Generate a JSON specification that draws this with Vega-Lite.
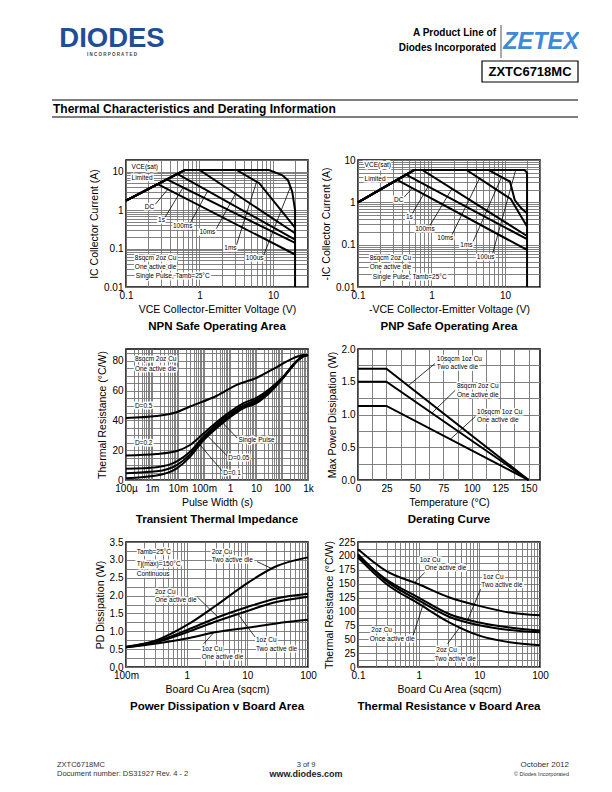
{
"$schema":"https://vega.github.io/schema/vega-lite/v6.json",
"padding":{"left":50,"top":20,"right":0,"bottom":0},
"autosize":{"type":"pad"},
"columns":3,
"bounds":"flush",
"align":"each",
"spacing":{"row":62,"column":50},
"config":{
 "font":"Liberation Sans",
 "view":{"stroke":null},
 "axis":{"grid":true,"gridColor":"#747474","gridWidth":0.9,"ticks":false,"domain":false,"labelFont":"Liberation Sans","labelFontSize":10,"labelColor":"#000","labelPadding":3,"labelOverlap":"greedy","labelFlush":false,"labelBound":false,"titleFont":"Liberation Sans","titleFontSize":10.5,"titleFontWeight":"normal","titleColor":"#000","titlePadding":4},
 "title":{"font":"Liberation Sans","fontSize":11.5,"fontWeight":"bold","color":"#000","orient":"bottom","offset":6,"anchor":"middle"},
 "line":{"color":"black","strokeWidth":2},
 "rule":{"color":"black","strokeWidth":0.8}
},
"datasets":{
 "npn":[
  {"c":"DC","V":0.1,"I":1.75},{"c":"DC","V":0.27,"I":4.7},{"c":"DC","V":20,"I":0.07},
  {"c":"1s","V":0.1,"I":1.75},{"c":"1s","V":0.36,"I":6.3},{"c":"1s","V":20,"I":0.14},
  {"c":"100ms","V":0.1,"I":1.75},{"c":"100ms","V":0.5,"I":8.75},{"c":"100ms","V":20,"I":0.17},
  {"c":"10ms","V":0.1,"I":1.75},{"c":"10ms","V":0.63,"I":11},{"c":"10ms","V":1,"I":11},{"c":"10ms","V":20,"I":0.25},
  {"c":"1ms","V":0.1,"I":1.75},{"c":"1ms","V":0.63,"I":11},{"c":"1ms","V":3.2,"I":11},{"c":"1ms","V":6.5,"I":5},{"c":"1ms","V":20,"I":0.35},
  {"c":"100us","V":0.1,"I":1.75},{"c":"100us","V":0.63,"I":11},{"c":"100us","V":8.8,"I":11},{"c":"100us","V":13.3,"I":8.1},{"c":"100us","V":16,"I":6},{"c":"100us","V":18.3,"I":3},{"c":"100us","V":20,"I":1},{"c":"100us","V":20,"I":0.01}
 ],
 "npnLab":[
  {"t":"VCE(sat)","V":0.119,"I":12.9},{"t":"Limited","V":0.119,"I":6.7},
  {"t":"DC","V":0.18,"I":1.22},{"t":"1s","V":0.273,"I":0.55},{"t":"100ms","V":0.436,"I":0.385},{"t":"10ms","V":1.0,"I":0.274},{"t":"1ms","V":2.18,"I":0.101},{"t":"100us","V":4.27,"I":0.0557},
  {"t":"8sqcm 2oz Cu","V":0.132,"I":0.058},{"t":"One active die","V":0.132,"I":0.0338},{"t":"Single Pulse, Tamb=25°C","V":0.136,"I":0.0194}
 ],
 "npnLead":[
  {"V":0.25,"I":1.4,"V2":0.37,"I2":3.44},
  {"V":0.34,"I":0.65,"V2":0.6,"I2":3.89},
  {"V":0.75,"I":0.46,"V2":1.3,"I2":3.2},
  {"V":1.7,"I":0.33,"V2":3.1,"I2":2.65},
  {"V":3.2,"I":0.125,"V2":6.0,"I2":5.5},
  {"V":7.5,"I":0.068,"V2":17.3,"I2":4.0}
 ],
 "pnp":[
  {"c":"DC","V":0.1,"I":1},{"c":"DC","V":0.34,"I":3.4},{"c":"DC","V":20,"I":0.075},
  {"c":"1s","V":0.1,"I":1},{"c":"1s","V":0.45,"I":4.5},{"c":"1s","V":20,"I":0.135},
  {"c":"100ms","V":0.1,"I":1},{"c":"100ms","V":0.58,"I":5.8},{"c":"100ms","V":0.75,"I":5.8},{"c":"100ms","V":20,"I":0.16},
  {"c":"10ms","V":0.1,"I":1},{"c":"10ms","V":0.58,"I":5.8},{"c":"10ms","V":3,"I":5.8},{"c":"10ms","V":12,"I":1.2},{"c":"10ms","V":20,"I":0.27},
  {"c":"1ms","V":0.1,"I":1},{"c":"1ms","V":0.58,"I":5.8},{"c":"1ms","V":6,"I":5.8},{"c":"1ms","V":11.7,"I":3.1},{"c":"1ms","V":13.6,"I":1.13},{"c":"1ms","V":16.7,"I":0.72},{"c":"1ms","V":20,"I":0.55},
  {"c":"100us","V":0.1,"I":1},{"c":"100us","V":0.58,"I":5.8},{"c":"100us","V":18.5,"I":5.8},{"c":"100us","V":20,"I":5},{"c":"100us","V":20,"I":0.01}
 ],
 "pnpLab":[
  {"t":"VCE(sat)","V":0.123,"I":7.6},{"t":"Limited","V":0.123,"I":3.5},
  {"t":"DC","V":0.31,"I":1.14},{"t":"1s","V":0.449,"I":0.458},{"t":"100ms","V":0.6,"I":0.236},{"t":"10ms","V":1.2,"I":0.142},{"t":"1ms","V":2.47,"I":0.098},{"t":"100us","V":4.14,"I":0.052},
  {"t":"8sqcm 2oz Cu","V":0.144,"I":0.0476},{"t":"One active die","V":0.144,"I":0.0302},{"t":"Single Pulse, Tamb=25°C","V":0.159,"I":0.0175}
 ],
 "pnpLead":[
  {"V":0.42,"I":1.3,"V2":0.55,"I2":2.17},
  {"V":0.55,"I":0.55,"V2":0.9,"I2":2.37},
  {"V":0.95,"I":0.28,"V2":1.9,"I2":2.1},
  {"V":1.9,"I":0.17,"V2":4.5,"I2":3.66},
  {"V":3.7,"I":0.12,"V2":9,"I2":3.97},
  {"V":6.8,"I":0.062,"V2":14,"I2":5.8}
 ],
 "zth":[
  {"c":"D=0.5","pw":0.0001,"rth":41.7},{"c":"D=0.5","pw":0.0015,"rth":43},{"c":"D=0.5","pw":0.008,"rth":45.3},{"c":"D=0.5","pw":0.029,"rth":49.4},{"c":"D=0.5","pw":0.31,"rth":56.6},{"c":"D=0.5","pw":1.8,"rth":63.9},{"c":"D=0.5","pw":10.7,"rth":68.7},{"c":"D=0.5","pw":63,"rth":75.9},{"c":"D=0.5","pw":275,"rth":81.9},{"c":"D=0.5","pw":660,"rth":83.9},{"c":"D=0.5","pw":1000,"rth":84},
  {"c":"D=0.2","pw":0.0001,"rth":16.5},{"c":"D=0.2","pw":0.0015,"rth":17.5},{"c":"D=0.2","pw":0.009,"rth":19.5},{"c":"D=0.2","pw":0.029,"rth":23.5},{"c":"D=0.2","pw":0.093,"rth":31},{"c":"D=0.2","pw":0.31,"rth":39},{"c":"D=0.2","pw":1,"rth":45.8},{"c":"D=0.2","pw":3.2,"rth":51.5},{"c":"D=0.2","pw":10.7,"rth":55.3},{"c":"D=0.2","pw":35,"rth":61.5},{"c":"D=0.2","pw":113,"rth":69.5},{"c":"D=0.2","pw":365,"rth":80},{"c":"D=0.2","pw":660,"rth":83.3},{"c":"D=0.2","pw":1000,"rth":84},
  {"c":"D=0.1","pw":0.0001,"rth":7.5},{"c":"D=0.1","pw":0.0015,"rth":8.6},{"c":"D=0.1","pw":0.009,"rth":12.5},{"c":"D=0.1","pw":0.029,"rth":19},{"c":"D=0.1","pw":0.093,"rth":29},{"c":"D=0.1","pw":0.31,"rth":37.5},{"c":"D=0.1","pw":1,"rth":44.5},{"c":"D=0.1","pw":3.2,"rth":50},{"c":"D=0.1","pw":10.7,"rth":54},{"c":"D=0.1","pw":35,"rth":60.8},{"c":"D=0.1","pw":113,"rth":69.3},{"c":"D=0.1","pw":365,"rth":79.8},{"c":"D=0.1","pw":660,"rth":83.2},{"c":"D=0.1","pw":1000,"rth":84},
  {"c":"D=0.05","pw":0.0001,"rth":4.6},{"c":"D=0.05","pw":0.0015,"rth":5.8},{"c":"D=0.05","pw":0.009,"rth":10},{"c":"D=0.05","pw":0.029,"rth":17.2},{"c":"D=0.05","pw":0.093,"rth":27.7},{"c":"D=0.05","pw":0.31,"rth":36.3},{"c":"D=0.05","pw":1,"rth":43.3},{"c":"D=0.05","pw":3.2,"rth":49},{"c":"D=0.05","pw":10.7,"rth":52.8},{"c":"D=0.05","pw":35,"rth":60},{"c":"D=0.05","pw":113,"rth":69},{"c":"D=0.05","pw":365,"rth":79.6},{"c":"D=0.05","pw":660,"rth":83.1},{"c":"D=0.05","pw":1000,"rth":84},
  {"c":"Single","pw":0.0001,"rth":1.2},{"c":"Single","pw":0.0015,"rth":3},{"c":"Single","pw":0.009,"rth":7.8},{"c":"Single","pw":0.029,"rth":15.5},{"c":"Single","pw":0.093,"rth":26.5},{"c":"Single","pw":0.31,"rth":35},{"c":"Single","pw":1,"rth":42.2},{"c":"Single","pw":3.2,"rth":48.2},{"c":"Single","pw":10.7,"rth":51.8},{"c":"Single","pw":35,"rth":59},{"c":"Single","pw":113,"rth":68.7},{"c":"Single","pw":365,"rth":79.5},{"c":"Single","pw":660,"rth":83},{"c":"Single","pw":1000,"rth":84}
 ],
 "zthLab":[
  {"t":"8sqcm 2oz Cu","pw":0.00022,"rth":81.5},{"t":"One active die","pw":0.00022,"rth":74.7},{"t":"D=0.5","pw":0.00022,"rth":49.4},{"t":"D=0.2","pw":0.00022,"rth":24.6},{"t":"Single Pulse","pw":2.1,"rth":27},{"t":"D=0.05","pw":0.86,"rth":14.9},{"t":"D=0.1","pw":0.55,"rth":4.8}
 ],
 "zthLead":[
  {"pw":1.95,"rth":28,"pw2":0.45,"rth2":39.5},
  {"pw":0.8,"rth":16,"pw2":0.13,"rth2":30},
  {"pw":0.5,"rth":6,"pw2":0.06,"rth2":25}
 ],
 "der":[
  {"c":"a","temp":0,"pd":1.7},{"c":"a","temp":25,"pd":1.7},{"c":"a","temp":150,"pd":0},
  {"c":"b","temp":0,"pd":1.5},{"c":"b","temp":25,"pd":1.5},{"c":"b","temp":150,"pd":0},
  {"c":"c","temp":0,"pd":1.13},{"c":"c","temp":25,"pd":1.13},{"c":"c","temp":150,"pd":0}
 ],
 "derLab":[
  {"t":"10sqcm 1oz Cu","temp":69.3,"pd":1.845},{"t":"Two active die","temp":69.3,"pd":1.72},
  {"t":"8sqcm 2oz Cu","temp":87,"pd":1.434},{"t":"One active die","temp":87,"pd":1.304},
  {"t":"10sqcm 1oz Cu","temp":104.7,"pd":1.041},{"t":"One active die","temp":104.7,"pd":0.913}
 ],
 "derLead":[
  {"temp":67.8,"pd":1.78,"temp2":44.2,"pd2":1.44},
  {"temp":85.5,"pd":1.37,"temp2":64.9,"pd2":1.02},
  {"temp":103.2,"pd":0.97,"temp2":81.1,"pd2":0.62}
 ],
 "pdb":[
  {"c":"2oz2","area":0.1,"pd":0.57},{"c":"2oz2","area":0.32,"pd":0.75},{"c":"2oz2","area":1,"pd":1.17},{"c":"2oz2","area":3.1,"pd":1.73},{"c":"2oz2","area":10,"pd":2.35},{"c":"2oz2","area":30,"pd":2.82},{"c":"2oz2","area":100,"pd":3.07},
  {"c":"2oz1","area":0.1,"pd":0.56},{"c":"2oz1","area":0.32,"pd":0.72},{"c":"2oz1","area":1,"pd":1.03},{"c":"2oz1","area":3.1,"pd":1.38},{"c":"2oz1","area":10,"pd":1.68},{"c":"2oz1","area":30,"pd":1.92},{"c":"2oz1","area":100,"pd":2.05},
  {"c":"1oz2","area":0.1,"pd":0.55},{"c":"1oz2","area":0.32,"pd":0.7},{"c":"1oz2","area":1,"pd":0.97},{"c":"1oz2","area":3.1,"pd":1.28},{"c":"1oz2","area":10,"pd":1.57},{"c":"1oz2","area":30,"pd":1.82},{"c":"1oz2","area":100,"pd":1.97},
  {"c":"1oz1","area":0.1,"pd":0.55},{"c":"1oz1","area":0.32,"pd":0.66},{"c":"1oz1","area":1,"pd":0.8},{"c":"1oz1","area":3.1,"pd":0.98},{"c":"1oz1","area":10,"pd":1.1},{"c":"1oz1","area":30,"pd":1.22},{"c":"1oz1","area":100,"pd":1.32}
 ],
 "pdbLab":[
  {"t":"Tamb=25°C","area":0.15,"pd":3.22},{"t":"Tj(max)=150°C","area":0.15,"pd":2.89},{"t":"Continuous","area":0.15,"pd":2.61},
  {"t":"2oz Cu","area":2.58,"pd":3.22},{"t":"Two active die","area":2.58,"pd":3.0},
  {"t":"2oz Cu","area":0.3,"pd":2.1},{"t":"One active die","area":0.3,"pd":1.87},
  {"t":"1oz Cu","area":13.9,"pd":0.77},{"t":"Two active die","area":13.9,"pd":0.51},
  {"t":"1oz Cu","area":1.77,"pd":0.51},{"t":"One active die","area":1.77,"pd":0.28}
 ],
 "pdbLead":[
  {"area":14.5,"pd":2.95,"area2":25,"pd2":2.76},
  {"area":1.5,"pd":1.96,"area2":3.3,"pd2":1.39},
  {"area":13.4,"pd":0.84,"area2":7.1,"pd2":1.47},
  {"area":1.9,"pd":0.65,"area2":2.75,"pd2":0.95}
 ],
 "trb":[
  {"c":"1oz1","area":0.1,"rth":212},{"c":"1oz1","area":0.29,"rth":173},{"c":"1oz1","area":1,"rth":149},{"c":"1oz1","area":3.24,"rth":125},{"c":"1oz1","area":10,"rth":110},{"c":"1oz1","area":31.6,"rth":98},{"c":"1oz1","area":100,"rth":93},
  {"c":"1oz2","area":0.1,"rth":200},{"c":"1oz2","area":0.29,"rth":158},{"c":"1oz2","area":1,"rth":125},{"c":"1oz2","area":3.24,"rth":95},{"c":"1oz2","area":10,"rth":80},{"c":"1oz2","area":31.6,"rth":71},{"c":"1oz2","area":100,"rth":65.5},
  {"c":"2oz1","area":0.1,"rth":203},{"c":"2oz1","area":0.29,"rth":155},{"c":"2oz1","area":1,"rth":120},{"c":"2oz1","area":3.24,"rth":90},{"c":"2oz1","area":10,"rth":75},{"c":"2oz1","area":31.6,"rth":66.5},{"c":"2oz1","area":100,"rth":62.5},
  {"c":"2oz2","area":0.1,"rth":197},{"c":"2oz2","area":0.29,"rth":150},{"c":"2oz2","area":1,"rth":114},{"c":"2oz2","area":3.24,"rth":80},{"c":"2oz2","area":10,"rth":56.5},{"c":"2oz2","area":31.6,"rth":44.6},{"c":"2oz2","area":100,"rth":39}
 ],
 "trbLab":[
  {"t":"1oz Cu","area":1.04,"rth":193.4},{"t":"One active die","area":1.26,"rth":178.6},
  {"t":"1oz Cu","area":11.5,"rth":161.9},{"t":"Two active die","area":10.8,"rth":147},
  {"t":"2oz Cu","area":0.166,"rth":66.7},{"t":"Once active die","area":0.156,"rth":50.6},
  {"t":"2oz Cu","area":1.95,"rth":31.5},{"t":"Two active die","area":1.84,"rth":14.9}
 ],
 "trbLead":[
  {"area":1.26,"rth":170,"area2":0.86,"rth2":152},
  {"area":10.5,"rth":140,"area2":6.5,"rth2":86},
  {"area":0.81,"rth":57,"area2":1.2,"rth2":114},
  {"area":3.0,"rth":42,"area2":4.8,"rth2":72}
 ]
},
"concat":[
 {"width":26,"height":78,
  "layer":[
   {"data":{"values":[{"t":"DIODES"}]},"mark":{"type":"text","fontWeight":"bold","fontSize":27.5,"color":"#1f4e96","align":"center","baseline":"alphabetic"},
    "encoding":{"x":{"datum":112,"type":"quantitative","scale":{"domain":[50,76],"nice":false,"zero":false},"axis":null},"y":{"datum":46.5,"type":"quantitative","scale":{"domain":[20,98],"nice":false,"zero":false,"reverse":true},"axis":null},"text":{"field":"t"}}},
   {"data":{"values":[{"t":"I     N     C     O     R     P     O     R     A     T     E     D"}]},"mark":{"type":"text","fontWeight":"bold","fontSize":4.5,"color":"#444","align":"center","baseline":"alphabetic"},
    "encoding":{"x":{"datum":112,"type":"quantitative","scale":{"domain":[50,76],"nice":false,"zero":false},"axis":null},"y":{"datum":56,"type":"quantitative","scale":{"domain":[20,98],"nice":false,"zero":false,"reverse":true},"axis":null},"text":{"field":"t"}}},
   {"data":{"values":[{"t":"A Product Line of\nDiodes Incorporated"}]},"mark":{"type":"text","fontWeight":"bold","fontSize":10,"color":"#000","align":"right","baseline":"alphabetic","lineBreak":"\n","lineHeight":15},
    "encoding":{"x":{"datum":496,"type":"quantitative","scale":{"domain":[50,76],"nice":false,"zero":false},"axis":null},"y":{"datum":36,"type":"quantitative","scale":{"domain":[20,98],"nice":false,"zero":false,"reverse":true},"axis":null},"text":{"field":"t"}}},
   {"data":{"values":[{}]},"mark":{"type":"rule","color":"#555","strokeWidth":1},
    "encoding":{"x":{"datum":501,"type":"quantitative","scale":{"domain":[50,76],"nice":false,"zero":false},"axis":null},"y":{"datum":25,"type":"quantitative","scale":{"domain":[20,98],"nice":false,"zero":false,"reverse":true},"axis":null},"y2":{"datum":58}}},
   {"data":{"values":[{"t":"ZETEX"}]},"mark":{"type":"text","fontWeight":"bold","fontStyle":"italic","fontSize":23.5,"color":"#3d8ad6","align":"center","baseline":"alphabetic"},
    "encoding":{"x":{"datum":541,"type":"quantitative","scale":{"domain":[50,76],"nice":false,"zero":false},"axis":null},"y":{"datum":49,"type":"quantitative","scale":{"domain":[20,98],"nice":false,"zero":false,"reverse":true},"axis":null},"text":{"field":"t"}}},
   {"data":{"values":[{}]},"mark":{"type":"rect","fill":"transparent","stroke":"black","strokeWidth":1.2},
    "encoding":{"x":{"datum":482,"type":"quantitative","scale":{"domain":[50,76],"nice":false,"zero":false},"axis":null},"x2":{"datum":578},"y":{"datum":61,"type":"quantitative","scale":{"domain":[20,98],"nice":false,"zero":false,"reverse":true},"axis":null},"y2":{"datum":82}}},
   {"data":{"values":[{"t":"ZXTC6718MC"}]},"mark":{"type":"text","fontWeight":"bold","fontSize":13,"color":"#000","align":"center","baseline":"alphabetic"},
    "encoding":{"x":{"datum":530,"type":"quantitative","scale":{"domain":[50,76],"nice":false,"zero":false},"axis":null},"y":{"datum":76,"type":"quantitative","scale":{"domain":[20,98],"nice":false,"zero":false,"reverse":true},"axis":null},"text":{"field":"t"}}},
   {"data":{"values":[{}]},"mark":{"type":"rule","color":"#000","strokeWidth":1.2},
    "encoding":{"x":{"datum":52,"type":"quantitative","scale":{"domain":[50,76],"nice":false,"zero":false},"axis":null},"x2":{"datum":578},"y":{"datum":100,"type":"quantitative","scale":{"domain":[20,98],"nice":false,"zero":false,"reverse":true},"axis":null}}},
   {"data":{"values":[{}]},"mark":{"type":"rule","color":"#000","strokeWidth":1.2},
    "encoding":{"x":{"datum":52,"type":"quantitative","scale":{"domain":[50,76],"nice":false,"zero":false},"axis":null},"x2":{"datum":578},"y":{"datum":117,"type":"quantitative","scale":{"domain":[20,98],"nice":false,"zero":false,"reverse":true},"axis":null}}},
   {"data":{"values":[{"t":"Thermal Characteristics and Derating Information"}]},"mark":{"type":"text","fontWeight":"bold","fontSize":12,"color":"#000","align":"left","baseline":"alphabetic"},
    "encoding":{"x":{"datum":53,"type":"quantitative","scale":{"domain":[50,76],"nice":false,"zero":false},"axis":null},"y":{"datum":113,"type":"quantitative","scale":{"domain":[20,98],"nice":false,"zero":false,"reverse":true},"axis":null},"text":{"field":"t"}}}
  ]},
 {"width":182,"height":1,"data":{"values":[]},"mark":"point"},
 {"width":182,"height":1,"data":{"values":[]},"mark":"point"},
 {"width":26,"height":1,"data":{"values":[]},"mark":"point"},
 {"width":182,"height":127,"view":{"stroke":"black","strokeWidth":1.5},
  "title":{"text":"NPN Safe Operating Area"},
  "layer":[
   {"data":{"name":"npn"},"mark":{"type":"line"},
    "encoding":{"x":{"field":"V","type":"quantitative","scale":{"type":"log","domain":[0.1,30],"nice":false},"axis":{"title":"VCE  Collector-Emitter Voltage (V)","tickCount":20,"labelExpr":"indexof([0.1,1,10],datum.value)>=0 ? format(datum.value,'~g') : ''"}},
     "y":{"field":"I","type":"quantitative","scale":{"type":"log","domain":[0.01,20],"nice":false},"axis":{"title":"IC  Collector Current (A)","tickCount":20,"labelExpr":"indexof([0.01,0.1,1,10],datum.value)>=0 ? format(datum.value,'~g') : ''"}},
     "detail":{"field":"c"}}},
   {"data":{"name":"npnLead"},"mark":{"type":"rule"},"encoding":{"x":{"field":"V","type":"quantitative"},"y":{"field":"I","type":"quantitative"},"x2":{"field":"V2"},"y2":{"field":"I2"}}},
   {"data":{"name":"npnLab"},"mark":{"type":"text","align":"left","baseline":"middle","fontSize":6.5,"fill":"white","stroke":"white","strokeWidth":3},"encoding":{"x":{"field":"V","type":"quantitative"},"y":{"field":"I","type":"quantitative"},"text":{"field":"t"}}},
   {"data":{"name":"npnLab"},"mark":{"type":"text","align":"left","baseline":"middle","fontSize":6.5,"color":"black"},"encoding":{"x":{"field":"V","type":"quantitative"},"y":{"field":"I","type":"quantitative"},"text":{"field":"t"}}}
  ]},
 {"width":182,"height":127,"view":{"stroke":"black","strokeWidth":1.5},
  "title":{"text":"PNP Safe Operating Area"},
  "layer":[
   {"data":{"name":"pnp"},"mark":{"type":"line"},
    "encoding":{"x":{"field":"V","type":"quantitative","scale":{"type":"log","domain":[0.1,30],"nice":false},"axis":{"title":"-VCE  Collector-Emitter Voltage (V)","tickCount":20,"labelExpr":"indexof([0.1,1,10],datum.value)>=0 ? format(datum.value,'~g') : ''"}},
     "y":{"field":"I","type":"quantitative","scale":{"type":"log","domain":[0.01,10],"nice":false},"axis":{"title":"-IC  Collector Current (A)","tickCount":20,"labelExpr":"indexof([0.01,0.1,1,10],datum.value)>=0 ? format(datum.value,'~g') : ''"}},
     "detail":{"field":"c"}}},
   {"data":{"name":"pnpLead"},"mark":{"type":"rule"},"encoding":{"x":{"field":"V","type":"quantitative"},"y":{"field":"I","type":"quantitative"},"x2":{"field":"V2"},"y2":{"field":"I2"}}},
   {"data":{"name":"pnpLab"},"mark":{"type":"text","align":"left","baseline":"middle","fontSize":6.5,"fill":"white","stroke":"white","strokeWidth":3},"encoding":{"x":{"field":"V","type":"quantitative"},"y":{"field":"I","type":"quantitative"},"text":{"field":"t"}}},
   {"data":{"name":"pnpLab"},"mark":{"type":"text","align":"left","baseline":"middle","fontSize":6.5,"color":"black"},"encoding":{"x":{"field":"V","type":"quantitative"},"y":{"field":"I","type":"quantitative"},"text":{"field":"t"}}}
  ]},
 {"width":26,"height":1,"data":{"values":[]},"mark":"point"},
 {"width":182,"height":131,"view":{"stroke":"black","strokeWidth":1.5},
  "title":{"text":"Transient Thermal Impedance"},
  "layer":[
   {"data":{"name":"zth"},"mark":{"type":"line","interpolate":"monotone"},
    "encoding":{"x":{"field":"pw","type":"quantitative","scale":{"type":"log","domain":[0.0001,1000],"nice":false},"axis":{"title":"Pulse Width (s)","tickCount":20,"labelExpr":"datum.value==0.0001?'100µ':datum.value==0.001?'1m':datum.value==0.01?'10m':datum.value==0.1?'100m':datum.value==1?'1':datum.value==10?'10':datum.value==100?'100':datum.value==1000?'1k':''"}},
     "y":{"field":"rth","type":"quantitative","scale":{"domain":[0,88],"nice":false},"axis":{"title":"Thermal Resistance (°C/W)","tickCount":100,"values":[0,5,10,15,20,25,30,35,40,45,50,55,60,65,70,75,80,85],"labelExpr":"datum.value % 20 == 0 ? datum.label : ''"}},
     "detail":{"field":"c"}}},
   {"data":{"name":"zthLead"},"mark":{"type":"rule"},"encoding":{"x":{"field":"pw","type":"quantitative"},"y":{"field":"rth","type":"quantitative"},"x2":{"field":"pw2"},"y2":{"field":"rth2"}}},
   {"data":{"name":"zthLab"},"mark":{"type":"text","align":"left","baseline":"middle","fontSize":6.5,"fill":"white","stroke":"white","strokeWidth":3},"encoding":{"x":{"field":"pw","type":"quantitative"},"y":{"field":"rth","type":"quantitative"},"text":{"field":"t"}}},
   {"data":{"name":"zthLab"},"mark":{"type":"text","align":"left","baseline":"middle","fontSize":6.5,"color":"black"},"encoding":{"x":{"field":"pw","type":"quantitative"},"y":{"field":"rth","type":"quantitative"},"text":{"field":"t"}}}
  ]},
 {"width":182,"height":131,"view":{"stroke":"black","strokeWidth":1.5},
  "title":{"text":"Derating Curve"},
  "layer":[
   {"data":{"name":"der"},"mark":{"type":"line"},
    "encoding":{"x":{"field":"temp","type":"quantitative","scale":{"domain":[0,160],"nice":false},"axis":{"title":"Temperature (°C)","tickCount":100,"values":[0,12.5,25,37.5,50,62.5,75,87.5,100,112.5,125,137.5,150],"labelExpr":"datum.value % 25 == 0 ? datum.label : ''"}},
     "y":{"field":"pd","type":"quantitative","scale":{"domain":[0,2],"nice":false},"axis":{"title":"Max Power Dissipation (W)","tickCount":100,"values":[0,0.25,0.5,0.75,1,1.25,1.5,1.75,2],"format":".1f","labelExpr":"(datum.value*2) % 1 == 0 ? datum.label : ''"}},
     "detail":{"field":"c"}}},
   {"data":{"name":"derLead"},"mark":{"type":"rule"},"encoding":{"x":{"field":"temp","type":"quantitative"},"y":{"field":"pd","type":"quantitative"},"x2":{"field":"temp2"},"y2":{"field":"pd2"}}},
   {"data":{"name":"derLab"},"mark":{"type":"text","align":"left","baseline":"middle","fontSize":6.5,"fill":"white","stroke":"white","strokeWidth":3},"encoding":{"x":{"field":"temp","type":"quantitative"},"y":{"field":"pd","type":"quantitative"},"text":{"field":"t"}}},
   {"data":{"name":"derLab"},"mark":{"type":"text","align":"left","baseline":"middle","fontSize":6.5,"color":"black"},"encoding":{"x":{"field":"temp","type":"quantitative"},"y":{"field":"pd","type":"quantitative"},"text":{"field":"t"}}}
  ]},
 {"width":26,"height":1,"data":{"values":[]},"mark":"point"},
 {"width":182,"height":125,"view":{"stroke":"black","strokeWidth":1.5},
  "title":{"text":"Power Dissipation v Board Area"},
  "layer":[
   {"data":{"name":"pdb"},"mark":{"type":"line","interpolate":"monotone"},
    "encoding":{"x":{"field":"area","type":"quantitative","scale":{"type":"log","domain":[0.1,100],"nice":false},"axis":{"title":"Board Cu Area (sqcm)","tickCount":20,"labelExpr":"datum.value==0.1?'100m':indexof([1,10,100],datum.value)>=0 ? format(datum.value,'~g') : ''"}},
     "y":{"field":"pd","type":"quantitative","scale":{"domain":[0,3.5],"nice":false},"axis":{"title":"PD Dissipation (W)","tickCount":100,"values":[0,0.25,0.5,0.75,1,1.25,1.5,1.75,2,2.25,2.5,2.75,3,3.25,3.5],"format":".1f","labelExpr":"(datum.value*2) % 1 == 0 ? datum.label : ''"}},
     "detail":{"field":"c"}}},
   {"data":{"name":"pdbLead"},"mark":{"type":"rule"},"encoding":{"x":{"field":"area","type":"quantitative"},"y":{"field":"pd","type":"quantitative"},"x2":{"field":"area2"},"y2":{"field":"pd2"}}},
   {"data":{"name":"pdbLab"},"mark":{"type":"text","align":"left","baseline":"middle","fontSize":6.5,"fill":"white","stroke":"white","strokeWidth":3},"encoding":{"x":{"field":"area","type":"quantitative"},"y":{"field":"pd","type":"quantitative"},"text":{"field":"t"}}},
   {"data":{"name":"pdbLab"},"mark":{"type":"text","align":"left","baseline":"middle","fontSize":6.5,"color":"black"},"encoding":{"x":{"field":"area","type":"quantitative"},"y":{"field":"pd","type":"quantitative"},"text":{"field":"t"}}}
  ]},
 {"width":182,"height":125,"view":{"stroke":"black","strokeWidth":1.5},
  "title":{"text":"Thermal Resistance v Board Area"},
  "layer":[
   {"data":{"name":"trb"},"mark":{"type":"line","interpolate":"monotone"},
    "encoding":{"x":{"field":"area","type":"quantitative","scale":{"type":"log","domain":[0.1,100],"nice":false},"axis":{"title":"Board Cu Area (sqcm)","tickCount":20,"labelExpr":"indexof([0.1,1,10,100],datum.value)>=0 ? format(datum.value,'~g') : ''"}},
     "y":{"field":"rth","type":"quantitative","scale":{"domain":[0,225],"nice":false},"axis":{"title":"Thermal Resistance (°C/W)","tickCount":100,"values":[0,12.5,25,37.5,50,62.5,75,87.5,100,112.5,125,137.5,150,162.5,175,187.5,200,212.5,225],"labelExpr":"datum.value % 25 == 0 ? datum.label : ''"}},
     "detail":{"field":"c"}}},
   {"data":{"name":"trbLead"},"mark":{"type":"rule"},"encoding":{"x":{"field":"area","type":"quantitative"},"y":{"field":"rth","type":"quantitative"},"x2":{"field":"area2"},"y2":{"field":"rth2"}}},
   {"data":{"name":"trbLab"},"mark":{"type":"text","align":"left","baseline":"middle","fontSize":6.5,"fill":"white","stroke":"white","strokeWidth":3},"encoding":{"x":{"field":"area","type":"quantitative"},"y":{"field":"rth","type":"quantitative"},"text":{"field":"t"}}},
   {"data":{"name":"trbLab"},"mark":{"type":"text","align":"left","baseline":"middle","fontSize":6.5,"color":"black"},"encoding":{"x":{"field":"area","type":"quantitative"},"y":{"field":"rth","type":"quantitative"},"text":{"field":"t"}}}
  ]},
 {"width":26,"height":55,
  "layer":[
   {"data":{"values":[{"t":"ZXTC6718MC\nDocument number: DS31927 Rev. 4 - 2"}]},"mark":{"type":"text","fontSize":7.5,"color":"#333","align":"left","baseline":"alphabetic","lineBreak":"\n","lineHeight":9},
    "encoding":{"x":{"datum":57,"type":"quantitative","scale":{"domain":[50,76],"nice":false,"zero":false},"axis":null},"y":{"datum":767,"type":"quantitative","scale":{"domain":[729,784],"nice":false,"zero":false,"reverse":true},"axis":null},"text":{"field":"t"}}},
   {"data":{"values":[{"t":"3 of 9"}]},"mark":{"type":"text","fontSize":7.5,"color":"#333","align":"center","baseline":"alphabetic"},
    "encoding":{"x":{"datum":306,"type":"quantitative","scale":{"domain":[50,76],"nice":false,"zero":false},"axis":null},"y":{"datum":767,"type":"quantitative","scale":{"domain":[729,784],"nice":false,"zero":false,"reverse":true},"axis":null},"text":{"field":"t"}}},
   {"data":{"values":[{"t":"www.diodes.com"}]},"mark":{"type":"text","fontSize":9,"fontWeight":"bold","color":"#222","align":"center","baseline":"alphabetic"},
    "encoding":{"x":{"datum":306,"type":"quantitative","scale":{"domain":[50,76],"nice":false,"zero":false},"axis":null},"y":{"datum":777,"type":"quantitative","scale":{"domain":[729,784],"nice":false,"zero":false,"reverse":true},"axis":null},"text":{"field":"t"}}},
   {"data":{"values":[{"t":"October 2012"}]},"mark":{"type":"text","fontSize":8,"color":"#333","align":"right","baseline":"alphabetic"},
    "encoding":{"x":{"datum":569,"type":"quantitative","scale":{"domain":[50,76],"nice":false,"zero":false},"axis":null},"y":{"datum":767,"type":"quantitative","scale":{"domain":[729,784],"nice":false,"zero":false,"reverse":true},"axis":null},"text":{"field":"t"}}},
   {"data":{"values":[{"t":"© Diodes Incorporated"}]},"mark":{"type":"text","fontSize":5.5,"color":"#333","align":"right","baseline":"alphabetic"},
    "encoding":{"x":{"datum":569,"type":"quantitative","scale":{"domain":[50,76],"nice":false,"zero":false},"axis":null},"y":{"datum":775.5,"type":"quantitative","scale":{"domain":[729,784],"nice":false,"zero":false,"reverse":true},"axis":null},"text":{"field":"t"}}}
  ]}
]
}
